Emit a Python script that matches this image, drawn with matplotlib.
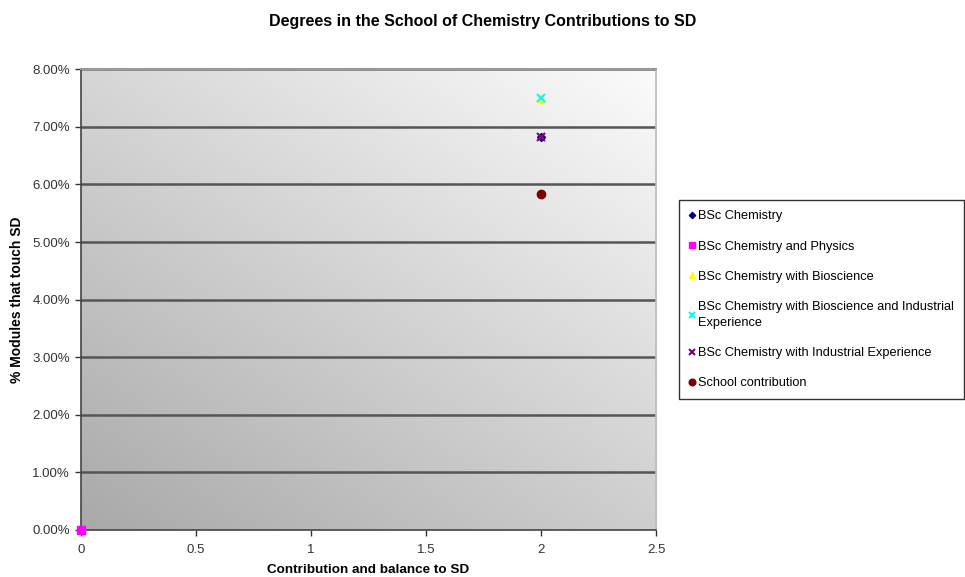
import matplotlib
matplotlib.use("Agg")
import matplotlib.pyplot as plt
import numpy as np
from matplotlib.ticker import FuncFormatter, MultipleLocator

plt.rcParams['font.family'] = ['Liberation Sans', 'DejaVu Sans']

series_names = [
    "BSc Chemistry",
    "BSc Chemistry and Physics",
    "BSc Chemistry with Bioscience",
    "BSc Chemistry with Bioscience and Industrial\nExperience",
    "BSc Chemistry with Industrial Experience",
    "School contribution",
]
x_values = [2, 0, 2, 2, 2, 2]
y_values = [0.0682, 0.0, 0.075, 0.075, 0.0682, 0.0583]
markers = ["D", "s", "^", "x", "x", "o"]
colors = ["#000080", "#FF00FF", "#FFFF00", "#00FFFF", "#800080", "#800000"]
sizes = [4, 6, 6, 6, 6, 6]

fig = plt.figure(figsize=(9.65, 5.77), dpi=100)
ax = fig.add_axes([0.0839, 0.0815, 0.596, 0.7985])

# gradient background
gx = np.linspace(0, 1, 200)
gy = np.linspace(0, 1, 200)
GX, GY = np.meshgrid(gx, gy)
grad = (GX * 0.45 + GY * 0.55)
ax.imshow(grad, extent=[0, 2.5, 0, 0.08], origin='lower', aspect='auto',
          cmap=matplotlib.colors.LinearSegmentedColormap.from_list('g', ['#a9a9a9', '#fbfbfb']),
          zorder=0, interpolation='bicubic')

ax.set_xlim(0, 2.5)
ax.set_ylim(0, 0.08)
ax.yaxis.set_major_locator(MultipleLocator(0.01))
ax.xaxis.set_major_locator(MultipleLocator(0.5))
ax.yaxis.set_major_formatter(FuncFormatter(lambda v, p: f"{v*100:.2f}%"))
ax.xaxis.set_major_formatter(FuncFormatter(lambda v, p: f"{v:g}"))

for yv in np.arange(0.01, 0.08, 0.01):
    ax.axhline(yv, color='#555555', lw=1.8, zorder=1)
ax.axhline(0.08, color='#999999', lw=1.8, zorder=1)

for name, xv, yv, m, c, s in zip(series_names, x_values, y_values, markers, colors, sizes):
    kw = dict(marker=m, linestyle='none', markersize=s, label=name, zorder=3, clip_on=False)
    if m == 'x':
        kw.update(color=c, markeredgewidth=1.5)
    else:
        kw.update(color=c, markeredgecolor=c)
    ax.plot([xv], [yv], **kw)

for sp in ['left', 'bottom']:
    ax.spines[sp].set_color('#444444')
    ax.spines[sp].set_linewidth(1.2)
ax.spines['top'].set_color('#999999')
ax.spines['top'].set_linewidth(1.5)
ax.spines['right'].set_color('#bbbbbb')
ax.spines['right'].set_linewidth(1.2)

ax.tick_params(axis='both', labelsize=9.5, colors='#333333', length=4, width=1, direction='out')
ax.tick_params(axis='x', pad=6)
ax.tick_params(axis='y', pad=4)
ax.set_xlabel("Contribution and balance to SD", fontsize=9.7, fontweight='bold', labelpad=6)
ax.set_ylabel("% Modules that touch SD", fontsize=10, fontweight='bold', labelpad=6)

fig.text(0.5, 0.963, "Degrees in the School of Chemistry Contributions to SD",
         ha='center', va='center', fontsize=11.5, fontweight='bold')

leg = fig.legend(loc='upper left', bbox_to_anchor=(0.7036, 0.653), frameon=True,
                 fontsize=9.2, handlelength=0.5, handletextpad=0.2, labelspacing=1.42,
                 borderpad=0.8, borderaxespad=0, fancybox=False, edgecolor='black',
                 markerscale=0.8)
for t in leg.get_texts():
    t.set_linespacing(1.45)
leg.get_frame().set_linewidth(1)

fig.savefig("out.png", dpi=100)
